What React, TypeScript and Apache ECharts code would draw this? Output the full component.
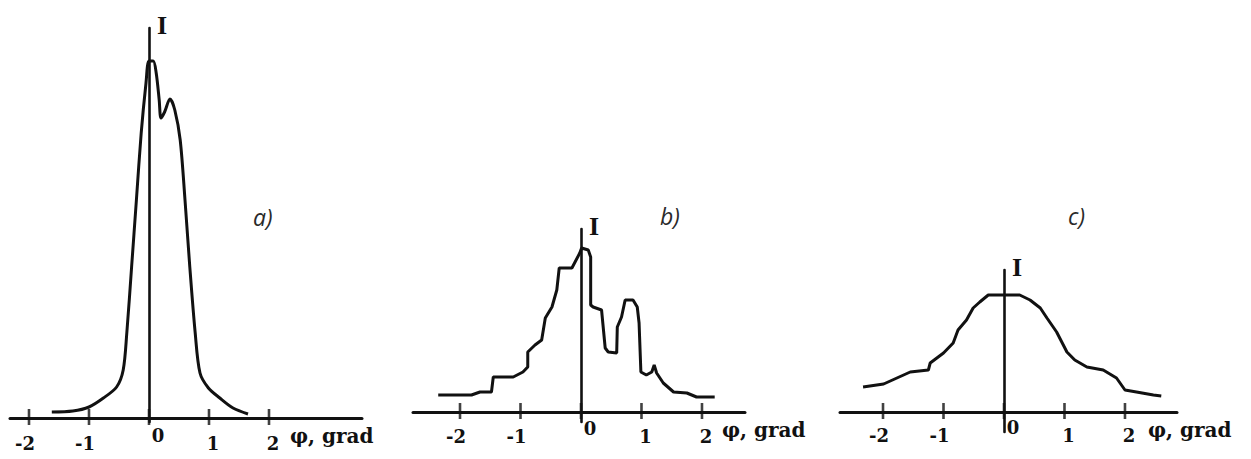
import React, { useEffect, useRef } from "react";
import * as echarts from "echarts";

// ---- data ----
const tickValues = [-2, -1, 0, 1, 2];

// panel a) – smooth double-peaked profile
const aPhi = [-1.62, -1.27, -1.0, -0.76, -0.54, -0.43, -0.37, -0.29, -0.21, -0.13, -0.05, 0.0, 0.07, 0.12, 0.17, 0.2, 0.26, 0.35, 0.43, 0.52, 0.6, 0.68, 0.77, 0.85, 0.99, 1.18, 1.4, 1.65];
const aI = [6, 7, 11, 20, 31, 48, 85, 151, 218, 285, 335, 357, 357, 345, 318, 300, 306, 319, 308, 278, 218, 151, 85, 45, 30, 20, 10, 4];

// panel b) – stepped profile with a secondary peak
const bPhi = [-2.36, -1.81, -1.67, -1.48, -1.45, -1.12, -0.96, -0.88, -0.88, -0.76, -0.65, -0.59, -0.48, -0.4, -0.36, -0.15, -0.02, 0.01, 0.12, 0.16, 0.16, 0.2, 0.34, 0.4, 0.45, 0.59, 0.6, 0.67, 0.73, 0.86, 0.93, 0.96, 0.99, 1.08, 1.17, 1.21, 1.25, 1.36, 1.53, 1.75, 1.91, 2.21];
const bI = [17, 17, 20, 20, 35, 35, 40, 45, 60, 67, 72, 94, 105, 122, 144, 144, 159, 164, 162, 155, 107, 105, 102, 64, 60, 59, 85, 95, 112, 112, 105, 89, 40, 37, 40, 47, 39, 29, 20, 19, 15, 15];

// panel c) – broad flat-topped profile
const cPhi = [-2.33, -1.99, -1.77, -1.55, -1.25, -1.22, -1.0, -0.84, -0.76, -0.62, -0.51, -0.4, -0.26, 0.26, 0.43, 0.6, 0.71, 0.87, 1.04, 1.17, 1.37, 1.64, 1.86, 2.0, 2.19, 2.47, 2.6];
const cI = [25, 28, 34, 40, 42, 49, 59, 69, 82, 92, 104, 110, 117, 117, 112, 104, 94, 80, 60, 52, 45, 42, 34, 22, 20, 17, 16];

const panelTags = ["a)", "b)", "c)"];
const xAxisName = "φ, grad";
const yAxisName = "I";

// ---- layout (pixels) ----
const layouts = [
  { left: 10, top: 28, width: 352, height: 394, xMin: -2.3167, xMax: 3.55, yMin: -4, yMax: 390, nameGap: -72, labelMargin: 4, smooth: 0.3, tagX: 253, tagY: 205 },
  { left: 413, top: 229, width: 332, height: 193, xMin: -2.777, xMax: 2.711, yMin: -10, yMax: 183, nameGap: -23, labelMargin: -3, smooth: false, tagX: 660, tagY: 204 },
  { left: 840, top: 270, width: 337, height: 162, xMin: -2.711, xMax: 2.86, yMin: -20, yMax: 142, nameGap: -29, labelMargin: -14, smooth: false, tagX: 1068, tagY: 204 },
];

const INK = "#111";
const serif = "DejaVu Serif";

export default function App() {
  const ref = useRef<HTMLDivElement>(null);
  useEffect(() => {
    if (!ref.current) return;
    const chart = echarts.init(ref.current, null, { renderer: "svg" });
    const series = [
      [aPhi, aI],
      [bPhi, bI],
      [cPhi, cI],
    ];
    const labelRich = {
      neg: { fontFamily: serif, fontWeight: "bold", fontSize: 18, color: INK, padding: [8, 8, 0, 0] },
      pos: { fontFamily: serif, fontWeight: "bold", fontSize: 18, color: INK, padding: [8, 0, 0, 8] },
      z: { fontFamily: serif, fontWeight: "bold", fontSize: 18, color: INK, padding: [0, 0, 0, 18] },
    };
    const option: any = {
      animation: false,
      backgroundColor: "#fff",
      grid: layouts.map((l) => ({
        left: l.left,
        top: l.top,
        width: l.width,
        height: l.height,
        containLabel: false,
        outerBoundsMode: "none",
      })),
      xAxis: layouts.map((l, i) => ({
        type: "value",
        gridIndex: i,
        min: l.xMin,
        max: l.xMax,
        name: xAxisName,
        nameLocation: "end",
        nameGap: l.nameGap,
        nameMoveOverlap: false,
        nameTextStyle: {
          fontFamily: serif,
          fontWeight: "bold",
          fontSize: 20,
          color: INK,
          align: "left",
          verticalAlign: "top",
          padding: [8, 0, 0, 0],
        },
        axisLine: { onZero: true, lineStyle: { color: INK, width: 3 } },
        axisTick: { show: false },
        splitLine: { show: false },
        axisLabel: {
          customValues: tickValues,
          margin: l.labelMargin,
          formatter: (v: number) => (v === 0 ? "{z|0}" : v < 0 ? `{neg|${v}}` : `{pos|${v}}`),
          rich: labelRich,
        },
      })),
      yAxis: layouts.map((l, i) => ({
        type: "value",
        gridIndex: i,
        min: l.yMin,
        max: l.yMax,
        name: yAxisName,
        nameLocation: "end",
        nameGap: -10,
        nameMoveOverlap: false,
        nameTextStyle: {
          fontFamily: "Liberation Serif",
          fontWeight: "bold",
          fontSize: 26,
          color: INK,
          align: "left",
          verticalAlign: "bottom",
          padding: [0, 0, 0, 8],
        },
        axisLine: { show: true, onZero: true, lineStyle: { color: INK, width: 2.6 } },
        axisTick: { show: false },
        axisLabel: { show: false },
        splitLine: { show: false },
      })),
      series: [
        ...series.map(([xs, ys], i) => ({
          type: "line",
          xAxisIndex: i,
          yAxisIndex: i,
          data: xs.map((x, k) => [x, ys[k]]),
          smooth: layouts[i].smooth,
          showSymbol: false,
          silent: true,
          lineStyle: { color: INK, width: 3 },
          z: 3,
        })),
        ...layouts.map((_, i) => ({
          type: "scatter",
          xAxisIndex: i,
          yAxisIndex: i,
          data: tickValues.map((t) => [t, 0]),
          symbol: "rect",
          symbolSize: [2.6, 16],
          symbolOffset: [0, -1],
          silent: true,
          itemStyle: { color: INK },
          z: 4,
        })),
      ],
      graphic: layouts.map((l, i) => ({
        type: "text",
        left: l.tagX,
        top: l.tagY,
        style: {
          text: panelTags[i],
          fontFamily: "Open Sans",
          fontStyle: "italic",
          fontSize: 23,
          fill: "#2a2a2a",
        },
      })),
    };
    chart.setOption(option);
    return () => chart.dispose();
  }, []);
  return (
    <div
      ref={ref}
      style={{ position: "fixed", left: 0, top: 0, width: 1251, height: 459, background: "#fff" }}
    />
  );
}
